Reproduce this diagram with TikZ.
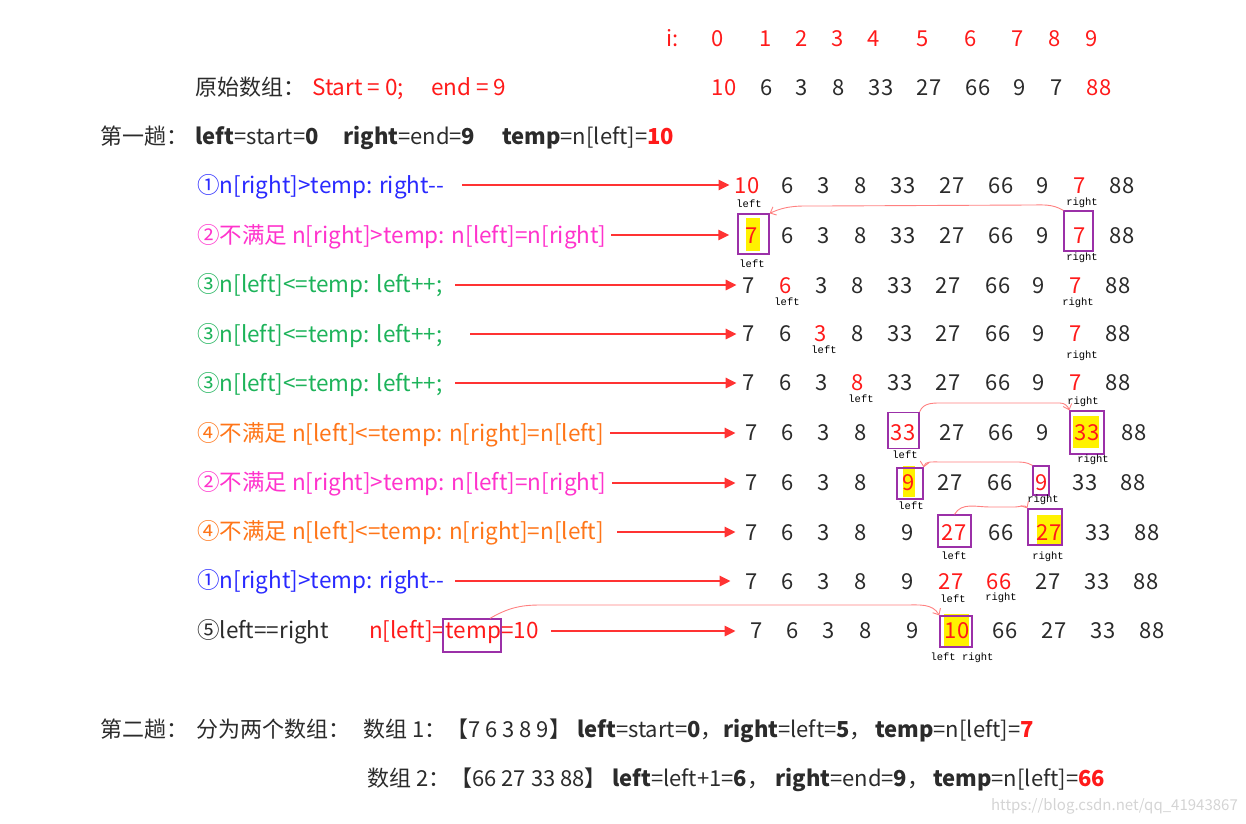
\documentclass[tikz,border=0pt]{standalone}
\usepackage{fontspec}
\setmainfont{Noto Sans CJK SC}
\newfontfamily\smallmono{Liberation Mono}
\usetikzlibrary{arrows.meta}
\definecolor{nm}{HTML}{2B2B2B}
\definecolor{rd}{HTML}{FF1A1A}
\definecolor{bl}{HTML}{2929FF}
\definecolor{mg}{HTML}{FF33CC}
\definecolor{gr}{HTML}{1DB35A}
\definecolor{og}{HTML}{FF7518}
\definecolor{pu}{HTML}{9B30A8}
\definecolor{pk}{HTML}{FF8080}
\definecolor{ar}{HTML}{FF3333}
\definecolor{wm}{HTML}{D4D4D4}
\newcommand\vrow[3]{\foreach \xx/\vv/\cc [count=\ii from 0] in {#3}{\node[num,text=\cc] (#1v\ii) at (\xx,#2) {\vv};}}
\begin{document}
\begin{tikzpicture}[x=1pt,y=-1pt,
 txt/.style={inner sep=0pt, anchor=base west, font=\fontsize{22}{26}\selectfont},
 lab/.style={inner sep=0pt, anchor=base west, font=\fontsize{22.5}{26}\selectfont},
 num/.style={inner sep=0pt, anchor=base, font=\fontsize{22}{26}\selectfont},
 tag/.style={inner sep=0pt, anchor=base, font=\smallmono\fontsize{10.5}{12}\selectfont, text=black},
 bigarrow/.style={draw=ar, line width=2.6pt, -{Triangle[length=11pt,width=10pt]}},
 pbox/.style={draw=pu, line width=1.3pt, inner sep=0pt},
 hl/.style={fill=yellow, inner sep=0pt},
 parrow/.style={draw=pk, line width=0.9pt, -{Straight Barb[length=5pt,width=9pt]}},
]
\useasboundingbox (0,0) rectangle (1246,823);
% index row
\node[txt,text=rd] (ilab) at (666,46) {i:};
\vrow{i}{46}{718/0/rd,766/1/rd,802/2/rd,838/3/rd,874/4/rd,923/5/rd,971/6/rd,1018/7/rd,1055/8/rd,1092/9/rd}
% original array
\node[txt,text=nm] (orig) at (195,95) {原始数组：};
\node[lab,text=rd] (se1) at (312,95) {Start = 0;};
\node[lab,text=rd] (se2) at (431,95) {end = 9};
\vrow{o}{95}{724/10/rd,767/6/nm,802/3/nm,839/8/nm,881/33/nm,929/27/nm,978/66/nm,1020/9/nm,1057/7/nm,1099/88/rd}
% header
\node[txt,text=nm] (h0) at (100,144) {第一趟：};
\node[txt,text=nm] (h1) at (195,144) {\textbf{left}=start=\textbf{0}};
\node[txt,text=nm] (h2) at (343,144) {\textbf{right}=end=\textbf{9}};
\node[txt,text=nm] (h3) at (502,144) {\textbf{temp}=n[left]=\textcolor{rd}{\textbf{10}}};
% step labels
\node[lab,text=bl] (l1) at (197,193) {①n[right]>temp: right-{}-};
\node[lab,text=mg] (l2) at (197,243) {②不满足 n[right]>temp: n[left]=n[right]};
\node[lab,text=gr] (l3) at (197,292) {③n[left]<=temp: left++;};
\node[lab,text=gr] (l4) at (197,342) {③n[left]<=temp: left++;};
\node[lab,text=gr] (l5) at (197,391) {③n[left]<=temp: left++;};
\node[lab,text=og] (l6) at (197,441) {④不满足 n[left]<=temp: n[right]=n[left]};
\node[lab,text=mg] (l7) at (197,490) {②不满足 n[right]>temp: n[left]=n[right]};
\node[lab,text=og] (l8) at (197,539) {④不满足 n[left]<=temp: n[right]=n[left]};
\node[lab,text=bl] (l9) at (197,588) {①n[right]>temp: right-{}-};
\node[lab,text=nm] (l10) at (197,638) {⑤left==right};
\node[lab,text=rd] (t10a) at (369,638) {n[left]=};
\node[pbox,minimum width=58pt,minimum height=33pt] (tbox) at (472,635.5) {};
\node[lab,text=rd] (t10b) at (t10a.base east) {temp=10};
% highlights
\node[hl,minimum width=14pt,minimum height=33pt] (y2) at (752.5,234) {};
\node[hl,minimum width=26pt,minimum height=32pt] (y6) at (1086,432) {};
\node[hl,minimum width=12pt,minimum height=31pt] (y7) at (909,481.5) {};
\node[hl,minimum width=25pt,minimum height=30pt] (y8) at (1049.5,530) {};
\node[hl,minimum width=25pt,minimum height=32pt] (y10) at (956.5,630) {};
% value rows
\vrow{a}{193}{747/10/rd,788/6/nm,824/3/nm,861/8/nm,903/33/nm,952/27/nm,1001/66/nm,1043/9/nm,1080/7/rd,1122/88/nm}
\vrow{b}{243}{752/7/rd,788/6/nm,824/3/nm,861/8/nm,903/33/nm,952/27/nm,1001/66/nm,1043/9/nm,1080/7/rd,1122/88/nm}
\vrow{c}{293}{749/7/nm,786/6/rd,822/3/nm,858/8/nm,900/33/nm,948/27/nm,998/66/nm,1039/9/nm,1076/7/rd,1118/88/nm}
\vrow{d}{341}{749/7/nm,786/6/nm,821/3/rd,858/8/nm,900/33/nm,948/27/nm,998/66/nm,1039/9/nm,1076/7/rd,1118/88/nm}
\vrow{e}{390}{749/7/nm,786/6/nm,822/3/nm,858/8/rd,900/33/nm,948/27/nm,998/66/nm,1039/9/nm,1076/7/rd,1118/88/nm}
\vrow{f}{440}{752/7/nm,788/6/nm,824/3/nm,861/8/nm,903/33/rd,952/27/nm,1001/66/nm,1043/9/nm,1087/33/rd,1134/88/nm}
\vrow{g}{490}{752/7/nm,788/6/nm,824/3/nm,861/8/nm,909/9/rd,950/27/nm,1000/66/nm,1042/9/rd,1085/33/nm,1133/88/nm}
\vrow{h}{540}{752/7/nm,788/6/nm,824/3/nm,861/8/nm,908/9/nm,954/27/rd,1001/66/nm,1049/27/rd,1098/33/nm,1147/88/nm}
\vrow{k}{589}{752/7/nm,788/6/nm,824/3/nm,861/8/nm,908/9/nm,951/27/rd,999/66/rd,1048/27/nm,1097/33/nm,1146/88/nm}
\vrow{m}{638}{757/7/nm,793/6/nm,829/3/nm,866/8/nm,913/9/nm,957/10/rd,1005/66/nm,1054/27/nm,1103/33/nm,1152/88/nm}
% boxes
\node[pbox,minimum width=31pt,minimum height=40pt] (b2l) at (753.5,234) {};
\node[pbox,minimum width=29pt,minimum height=40pt] (b2r) at (1078.5,231) {};
\node[pbox,minimum width=31pt,minimum height=36pt] (b6l) at (903.5,430.5) {};
\node[pbox,minimum width=34pt,minimum height=43pt] (b6r) at (1087,432.5) {};
\node[pbox,minimum width=26pt,minimum height=31pt] (b7l) at (910,483.5) {};
\node[pbox,minimum width=16pt,minimum height=29pt] (b7r) at (1041,480.5) {};
\node[pbox,minimum width=33pt,minimum height=32pt] (b8l) at (954.5,531) {};
\node[pbox,minimum width=34pt,minimum height=36pt] (b8r) at (1045,527) {};
\node[pbox,minimum width=32pt,minimum height=31pt] (b10) at (956,631.5) {};
% tags
\node[tag] (ta1) at (749,207) {left};
\node[tag] (ta2) at (1082,205) {right};
\node[tag] (tb1) at (752,267) {left};
\node[tag] (tb2) at (1082,260) {right};
\node[tag] (tc1) at (787,305) {left};
\node[tag] (tc2) at (1078,305) {right};
\node[tag] (td1) at (824,353) {left};
\node[tag] (td2) at (1082,358) {right};
\node[tag] (te1) at (861,402) {left};
\node[tag] (te2) at (1083,404) {right};
\node[tag] (tf1) at (905,458) {left};
\node[tag] (tf2) at (1093,462) {right};
\node[tag] (tg1) at (911,509) {left};
\node[tag] (tg2) at (1043,502) {right};
\node[tag] (th1) at (954,559) {left};
\node[tag] (th2) at (1048,559) {right};
\node[tag] (tk1) at (953,602) {left};
\node[tag] (tk2) at (1001,600) {right};
\node[tag] (tm1) at (962,660) {left right};
% big arrows
\coordinate (s1) at (462,185);
\coordinate (s2) at (611,235);
\coordinate (s3) at (455,285);
\coordinate (s4) at (470,334);
\coordinate (s5) at (455,383);
\coordinate (s6) at (610,433);
\coordinate (s7) at (612,483);
\coordinate (s8) at (617,532);
\coordinate (s9) at (455,581);
\coordinate (s10) at (551,631);
\draw[bigarrow,shorten >=5pt] (s1) -- (s1 -| av0.west);
\draw[bigarrow,shorten >=8pt] (s2) -- (s2 -| b2l.west);
\draw[bigarrow,shorten >=6pt] (s3) -- (s3 -| cv0.west);
\draw[bigarrow,shorten >=6pt] (s4) -- (s4 -| dv0.west);
\draw[bigarrow,shorten >=6pt] (s5) -- (s5 -| ev0.west);
\draw[bigarrow,shorten >=10pt] (s6) -- (s6 -| fv0.west);
\draw[bigarrow,shorten >=10pt] (s7) -- (s7 -| gv0.west);
\draw[bigarrow,shorten >=10pt] (s8) -- (s8 -| hv0.west);
\draw[bigarrow,shorten >=15pt] (s9) -- (s9 -| kv0.west);
\draw[bigarrow,shorten >=15pt] (s10) -- (s10 -| mv0.west);
% curved moves
\draw[parrow] (b2r.north west) to[out=150,in=0] (1030,205) -- (820,206) to[out=180,in=25] (b2l.north east);
\draw[parrow] (b6l.north east) to[out=70,in=180] (945,403) -- (1060,403) to[out=0,in=110] (b6r.north west);
\draw[parrow] (b7r.north west) to[out=150,in=0] (1015,462) -- (940,462) to[out=180,in=80] (b7l.north east);
\draw[parrow] (b8l.north) to[out=60,in=180] (990,507) -- (1015,507) to[out=0,in=120] (b8r.north west);
\draw[parrow] (tbox.north) ++(18,0) to[out=30,in=180] (540,605) -- (905,605) to[out=0,in=120] (b10.north west);
% second pass
\node[txt,text=nm] (p0) at (100,737) {第二趟：};
\node[txt,text=nm] (p1) at (196,737) {分为两个数组：};
\node[txt,text=nm] (p2) at (363,737) {数组 1：【7 6 3 8 9】};
\node[txt,text=nm] (p3) at (577,737) {\textbf{left}=start=\textbf{0}，};
\node[txt,text=nm] (p4) at (723,737) {\textbf{right}=left=\textbf{5}，};
\node[txt,text=nm] (p5) at (875,737) {\textbf{temp}=n[left]=\textcolor{rd}{\textbf{7}}};
\node[txt,text=nm] (q2) at (367,786) {数组 2：【66 27 33 88】};
\node[txt,text=nm] (q3) at (612,786) {\textbf{left}=left+1=\textbf{6}，};
\node[txt,text=nm] (q4) at (775,786) {\textbf{right}=end=\textbf{9}，};
\node[txt,text=nm] (q5) at (933,786) {\textbf{temp}=n[left]=\textcolor{rd}{\textbf{66}}};
\node[inner sep=0pt,anchor=base east,text=wm,font=\fontsize{15}{18}\selectfont] (wmk) at (1238,810) {https://blog.csdn.net/qq\_41943867};
\end{tikzpicture}
\end{document}
